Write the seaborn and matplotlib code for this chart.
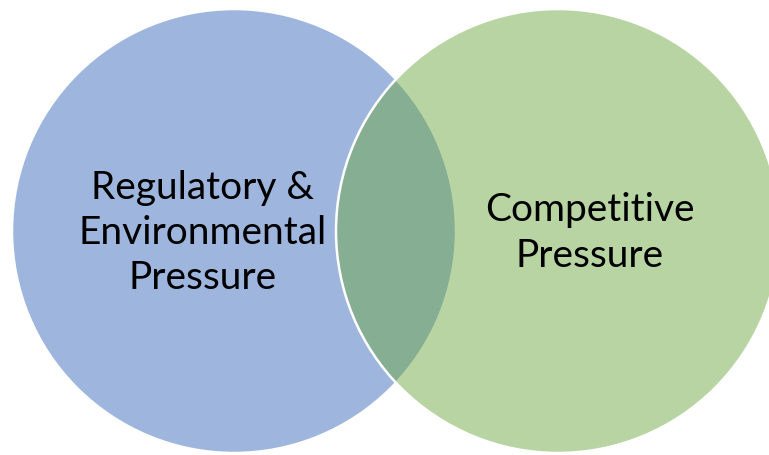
import matplotlib
matplotlib.use("Agg")
import matplotlib.pyplot as plt
import seaborn as sns
from matplotlib.patches import Circle

# Venn sets
labels = ["Regulatory &\nEnvironmental\nPressure", "Competitive\nPressure"]
centers_x = [234, 558]
centers_y = [231, 231]
radii = [222, 222]
colors = ["#9eb6de", "#6ba73f"]
alphas = [1.0, 0.48]
label_x = [203, 590]
label_y = [233, 233]

sns.set_theme(style="white")
plt.rcParams["font.family"] = ["Lato", "DejaVu Sans"]

fig = plt.figure(figsize=(7.69, 4.55), dpi=100)
ax = fig.add_axes([0, 0, 1, 1])

for i in range(len(labels)):
    circ = Circle(
        (centers_x[i], centers_y[i]),
        radii[i],
        facecolor=colors[i],
        alpha=alphas[i],
        edgecolor="none",
        zorder=i + 1
    )
    ax.add_patch(circ)
    # white rim around each circle
    rim = Circle(
        (centers_x[i], centers_y[i]),
        radii[i],
        facecolor="none",
        edgecolor="white",
        linewidth=1.8,
        zorder=i + 1.5
    )
    ax.add_patch(rim)

for i in range(len(labels)):
    ax.text(
        label_x[i], label_y[i], labels[i],
        ha="center", va="center",
        fontsize=28, color="black",
        linespacing=1.32, zorder=5
    )

ax.set_xlim(0, 769)
ax.set_ylim(455, 0)
ax.set_aspect("equal")
ax.axis("off")

fig.savefig("out.png", dpi=100, facecolor="white")
